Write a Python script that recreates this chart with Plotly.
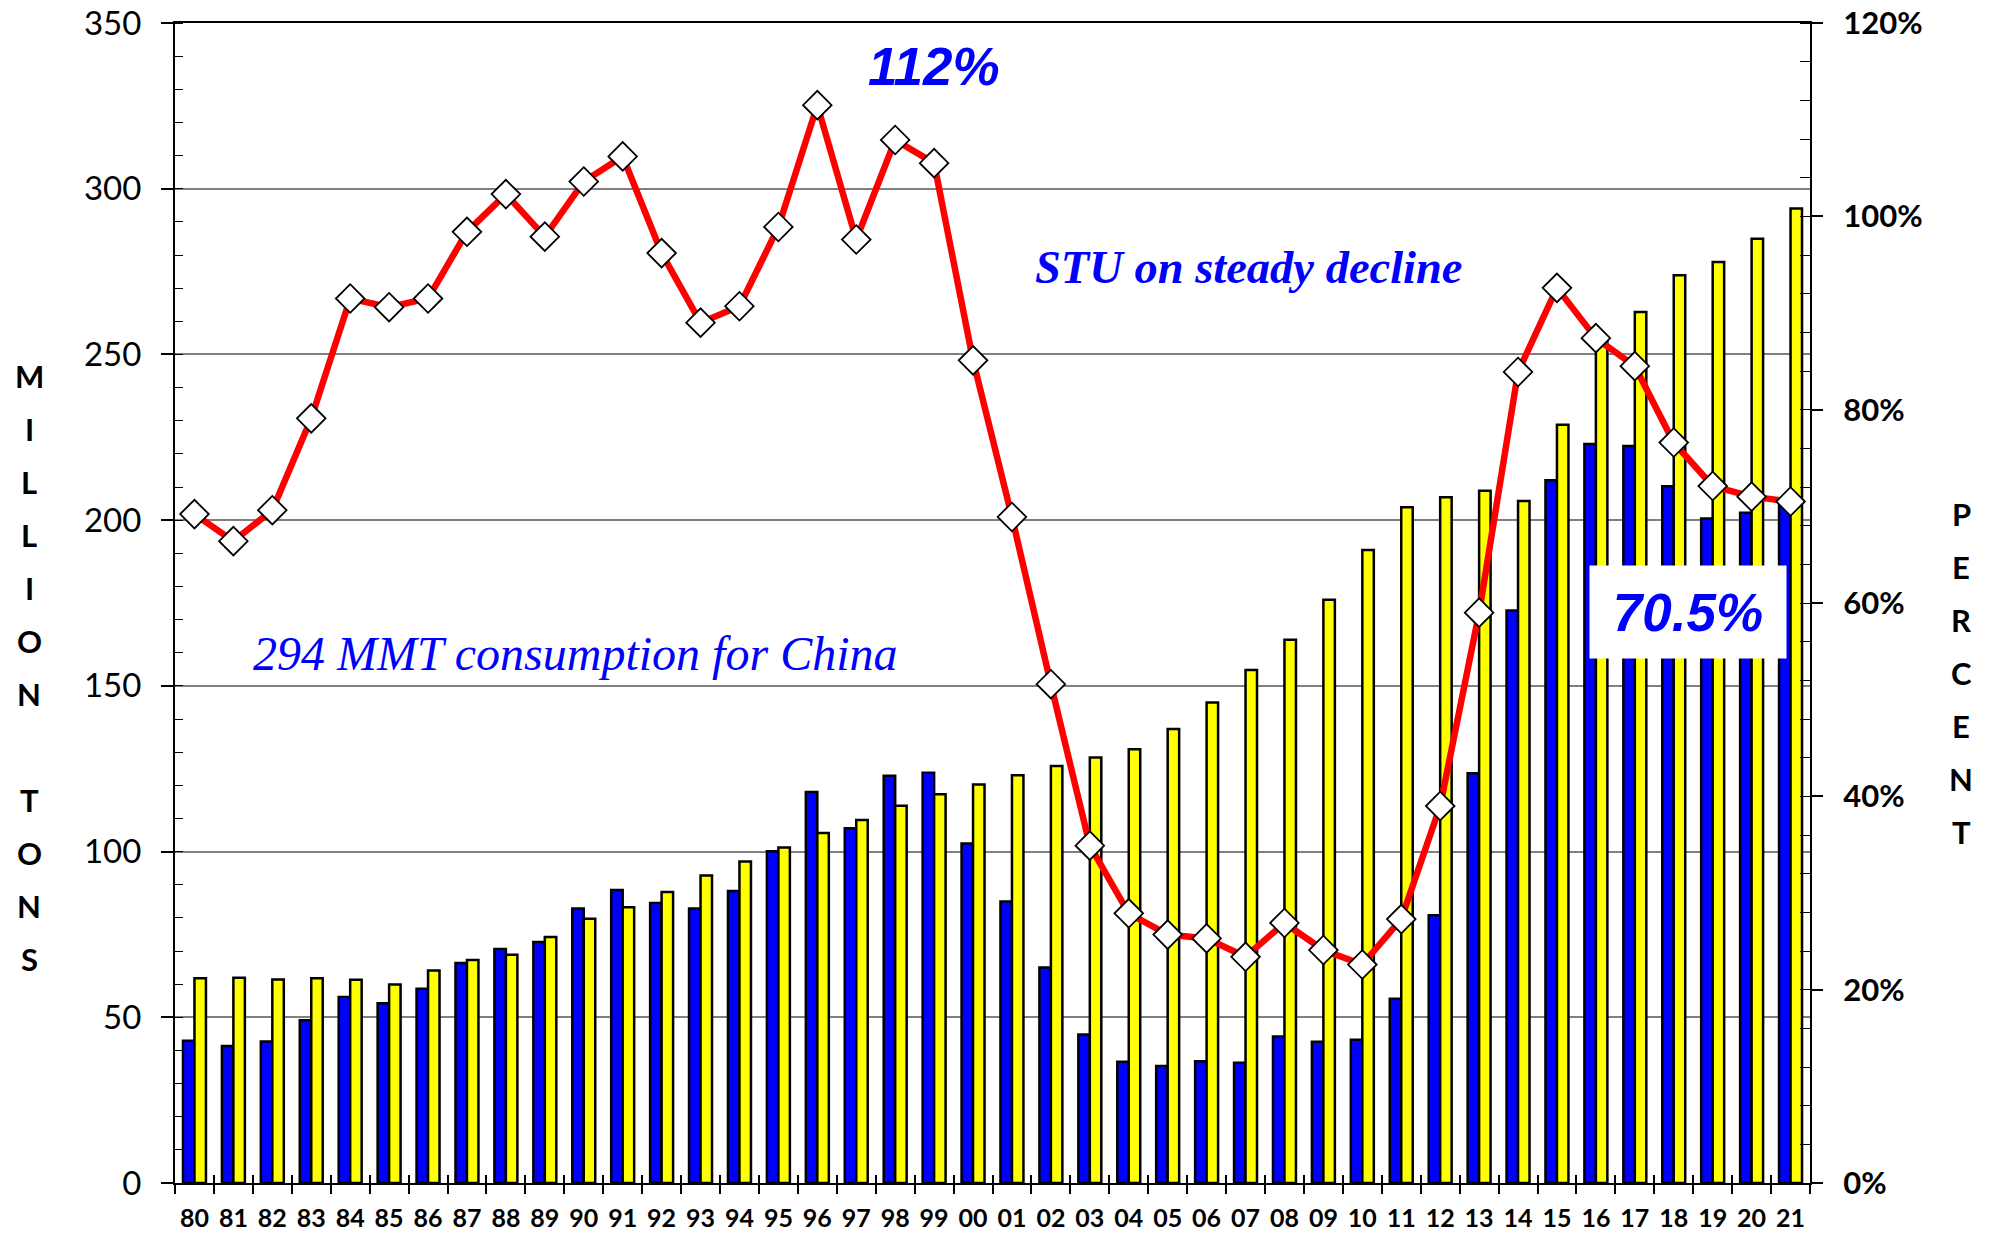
import plotly.graph_objects as go

# crop years 1980/81 .. 2021/22, shown as two-digit labels
years = ["80", "81", "82", "83", "84", "85", "86", "87", "88", "89",
         "90", "91", "92", "93", "94", "95", "96", "97", "98", "99",
         "00", "01", "02", "03", "04", "05", "06", "07", "08", "09",
         "10", "11", "12", "13", "14", "15", "16", "17", "18", "19",
         "20", "21"]

# ending stocks (million tons) - blue bars
stocks = [42.9, 41.3, 42.7, 49.1, 56.1, 54.2, 58.6, 66.4, 70.6, 72.7,
          82.8, 88.4, 84.5, 82.8, 88.1, 100.1, 118.0, 107.0, 122.9, 123.8,
          102.4, 84.9, 65.0, 44.8, 36.6, 35.3, 36.7, 36.3, 44.2, 42.6,
          43.2, 55.6, 80.8, 123.6, 172.7, 212.0, 223.0, 222.4, 210.2, 200.5,
          202.2, 206.0]

# consumption (million tons) - yellow bars
consumption = [61.8, 61.9, 61.4, 61.8, 61.3, 59.9, 64.1, 67.3, 68.9, 74.2,
               79.7, 83.2, 87.8, 92.8, 97.0, 101.2, 105.6, 109.5, 113.8, 117.3,
               120.2, 123.0, 125.8, 128.4, 130.9, 137.0, 145.0, 154.8, 163.9, 176.0,
               191.0, 203.9, 206.9, 208.9, 205.8, 228.8, 254.0, 262.8, 273.9, 277.9,
               284.9, 294.0]

# stocks-to-use ratio (%) - red line
stu = [69.2, 66.4, 69.6, 79.1, 91.5, 90.6, 91.5, 98.4, 102.3, 97.9,
       103.6, 106.2, 96.2, 89.0, 90.7, 98.9, 111.5, 97.6, 107.9, 105.5,
       85.1, 68.9, 51.6, 34.9, 27.9, 25.7, 25.3, 23.4, 26.9, 24.1,
       22.6, 27.3, 39.0, 59.0, 83.9, 92.6, 87.4, 84.5, 76.6, 72.1,
       71.0, 70.5]

W, H = 1992, 1238
L, R, T, B = 175, 182, 23, 55
PW, PH = W - L - R, H - T - B


def px(x):
    return (x - L) / PW


def py(y):
    return (H - B - y) / PH


fig = go.Figure()

fig.add_trace(go.Bar(
    x=years, y=stocks, name="Ending Stocks",
    marker=dict(color="#0000FF", line=dict(color="black", width=2.5)),
))
fig.add_trace(go.Bar(
    x=years, y=consumption, name="Consumption",
    marker=dict(color="#FFFF00", line=dict(color="black", width=2.5)),
))
fig.add_trace(go.Scatter(
    x=years, y=stu, name="Stocks-to-Use", xaxis="x2", yaxis="y2",
    mode="lines+markers",
    line=dict(color="#FF0000", width=6.5),
    marker=dict(symbol="diamond", size=22, color="white",
                line=dict(color="black", width=1.8)),
))

annotations = [
    dict(text="<b><i>112%</i></b>", x=px(934), y=py(67),
         font=dict(family="Liberation Sans", size=53, color="#0000FF")),
    dict(text="<b><i>STU on steady decline</i></b>", x=px(1249), y=py(268),
         font=dict(family="Liberation Serif", size=46.5, color="#0000FF")),
    dict(text="<i>294 MMT consumption for China</i>", x=px(575), y=py(653),
         font=dict(family="Liberation Serif", size=48, color="#0000FF")),
    dict(text="<b><i>70.5%</i></b>", x=px(1688), y=py(612),
         font=dict(family="Liberation Sans", size=53, color="#0000FF"),
         bgcolor="white", width=190, height=86, borderpad=3),
]

# stacked vertical axis titles
i = 0
for ch in "MILLION TONS":
    if ch != " ":
        annotations.append(dict(text="<b>" + ch + "</b>", x=px(29), y=py(376 + i * 53),
                                font=dict(family="Lato", size=31, color="black")))
    i += 1
for i, ch in enumerate("PERCENT"):
    annotations.append(dict(text="<b>" + ch + "</b>", x=px(1961), y=py(514 + i * 53),
                            font=dict(family="Lato", size=31, color="black")))

for a in annotations:
    a.update(xref="paper", yref="paper", showarrow=False,
             xanchor="center", yanchor="middle")

xrange = [-0.5, len(years) - 0.5]

fig.update_layout(
    width=W, height=H,
    margin=dict(l=L, r=R, t=T, b=B, autoexpand=False),
    paper_bgcolor="white", plot_bgcolor="white",
    barmode="group", bargap=0.41, bargroupgap=0,
    showlegend=False,
    font=dict(family="Lato", color="black"),
    xaxis=dict(
        type="category", range=xrange, showline=True, linecolor="black", linewidth=2,
        mirror=True, tickson="boundaries", ticks="outside", ticklen=9,
        tickcolor="black", tickwidth=1.5, tickangle=0, automargin=False,
        tickfont=dict(family="Lato", size=25, color="black", weight="bold"),
        ticklabelstandoff=12,
    ),
    # second x axis only adds the inner half of the crossing tick marks
    xaxis2=dict(
        type="category", range=xrange, overlaying="x", side="bottom", anchor="y",
        showline=False, tickson="boundaries", ticks="inside", ticklen=8,
        tickcolor="black", tickwidth=1.5, showticklabels=False, showgrid=False,
        automargin=False,
    ),
    yaxis=dict(
        range=[0, 350], dtick=50, showline=True, linecolor="black", linewidth=2,
        ticks="outside", ticklen=12, tickcolor="black", tickwidth=1.5,
        showgrid=True, gridcolor="#808080", gridwidth=1.5, automargin=False,
        minor=dict(dtick=10, ticks="inside", ticklen=8, tickcolor="black",
                   tickwidth=1, showgrid=False),
        tickfont=dict(family="Lato", size=33, color="black"),
        ticklabelstandoff=13, zeroline=False, ticklabeloverflow="allow",
    ),
    yaxis2=dict(
        range=[0, 120], dtick=20, ticksuffix="%", overlaying="y", side="right",
        anchor="x",
        showline=True, linecolor="black", linewidth=2, showgrid=False,
        ticks="outside", ticklen=11, tickcolor="black", tickwidth=1.5,
        automargin=False,
        minor=dict(dtick=4, ticks="inside", ticklen=10, tickcolor="black",
                   tickwidth=1, showgrid=False),
        tickfont=dict(family="Lato", size=31, color="black", weight="bold"),
        ticklabelstandoff=14, zeroline=False, ticklabeloverflow="allow",
    ),
    annotations=annotations,
)

# drop the page's default body margin so the figure fills the window exactly
fig.write_html("out.html", config={"displayModeBar": False},
               post_script="document.body.style.margin = '0px';")
